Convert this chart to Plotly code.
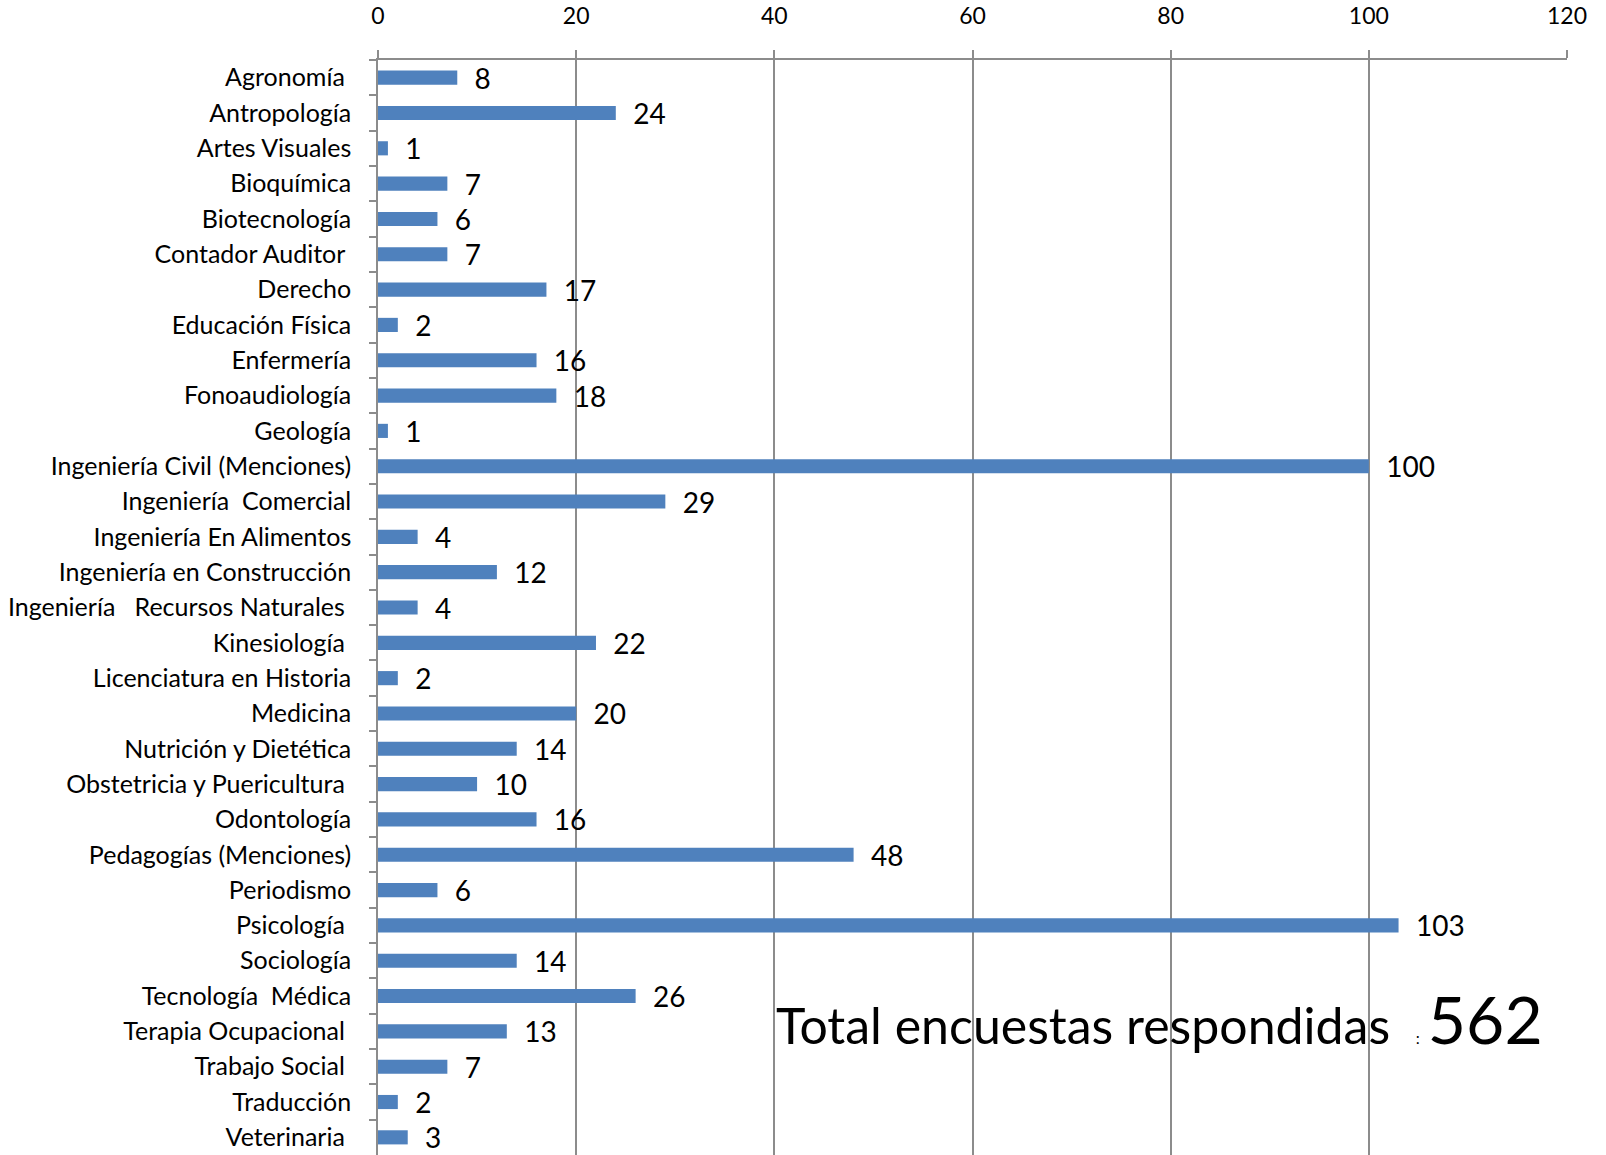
import plotly.graph_objects as go

# carreras y numero de encuestas respondidas
carreras = [
    "Agronomía\u00a0", "Antropología", "Artes Visuales", "Bioquímica",
    "Biotecnología", "Contador Auditor\u00a0", "Derecho", "Educación Física",
    "Enfermería", "Fonoaudiología", "Geología", "Ingeniería Civil (Menciones)",
    "Ingeniería\u00a0 Comercial", "Ingeniería En Alimentos",
    "Ingeniería en Construcción", "Ingeniería\u00a0\u00a0 Recursos Naturales\u00a0",
    "Kinesiología\u00a0", "Licenciatura en Historia", "Medicina",
    "Nutrición y Dietética", "Obstetricia y Puericultura\u00a0", "Odontología",
    "Pedagogías (Menciones)", "Periodismo", "Psicología\u00a0", "Sociología",
    "Tecnología\u00a0 Médica", "Terapia Ocupacional\u00a0", "Trabajo Social\u00a0",
    "Traducción", "Veterinaria\u00a0",
]
encuestas = [8, 24, 1, 7, 6, 7, 17, 2, 16, 18, 1, 100, 29, 4, 12, 4, 22, 2,
             20, 14, 10, 16, 48, 6, 103, 14, 26, 13, 7, 2, 3]
x_ticks = [0, 20, 40, 60, 80, 100, 120]

total = sum(encuestas)
FONT = "Lato"
GRID = "#8c8c8c"

fig = go.Figure()
fig.add_trace(go.Bar(
    x=encuestas, y=carreras, orientation="h",
    marker=dict(color="#4f81bd", line=dict(width=0)),
    text=encuestas, texttemplate="\u00a0\u00a0%{x}",
    textposition="outside", constraintext="none", cliponaxis=False,
    textfont=dict(family=FONT, size=28, color="black"),
))

fig.update_layout(
    width=1606, height=1155,
    margin=dict(l=378, r=39, t=60, b=0, autoexpand=False),
    plot_bgcolor="white", paper_bgcolor="white",
    showlegend=False, bargap=0.6,
    font=dict(family=FONT, size=25, color="black"),
)
fig.update_xaxes(
    side="top", range=[0, 120], tickvals=x_ticks,
    showgrid=True, gridcolor=GRID, gridwidth=1.5,
    showline=True, linecolor=GRID, linewidth=1.5,
    ticks="outside", ticklen=8, tickcolor=GRID, tickwidth=1.5,
    ticklabelstandoff=17, zeroline=False,
    tickfont=dict(family=FONT, size=23),
)
fig.update_yaxes(
    autorange="reversed", type="category",
    showline=True, linecolor=GRID, linewidth=1.5,
    ticks="outside", tickson="boundaries", ticklen=7,
    tickcolor=GRID, tickwidth=1.5, ticklabelstandoff=20,
    showgrid=False, tickfont=dict(family=FONT, size=25),
)

fig.add_annotation(
    xref="x", yref="paper", x=40, y=0.125,
    xanchor="left", yanchor="middle", showarrow=False,
    text=("Total encuestas respondidas\u00a0\u00a0"
          "<span style='font-size:16px'>:\u00a0\u00a0</span>"
          f"<span style='font-size:66px'>{total}</span>"),
    font=dict(family=FONT, size=50, color="black"),
)

# drop the default 8px body margin so the figure fills the window
fig.write_html("out.html", config={"displayModeBar": False},
               post_script="document.body.style.margin = '0';")
